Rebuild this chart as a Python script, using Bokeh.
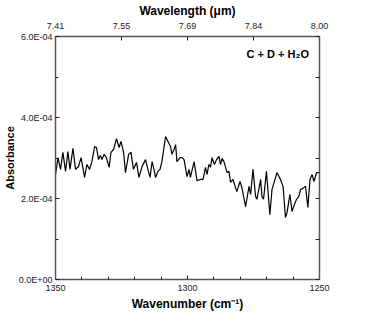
from bokeh.plotting import figure
from bokeh.models import (Range1d, LinearAxis, FixedTicker, Label,
                          CustomJSTickFormatter)
from bokeh.embed import file_html
from bokeh.resources import INLINE

# Spectrum (wavenumber in cm^-1, absorbance)
wavenumber = [
    1350.0, 1349.05, 1348.1, 1347.2, 1346.2, 1345.3, 1344.5, 1343.4, 1342.4, 1341.3,
    1340.3, 1339.0, 1338.1, 1337.1, 1336.2, 1335.2, 1334.5, 1333.7, 1333.0, 1332.4,
    1331.6, 1330.7, 1329.7, 1329.0, 1328.0, 1326.9, 1325.9, 1325.2, 1324.2, 1323.5,
    1322.3, 1321.4, 1320.5, 1319.3, 1318.4, 1317.2, 1315.9, 1315.0, 1314.2, 1313.4,
    1312.7, 1312.1, 1311.2, 1310.4, 1309.7, 1308.3, 1307.4, 1306.4, 1305.9, 1305.1,
    1304.5, 1304.0, 1302.8, 1302.1, 1301.3, 1300.2, 1299.4, 1298.9, 1297.5, 1296.4,
    1295.1, 1294.1, 1293.2, 1292.6, 1291.9, 1291.3, 1290.7, 1289.8, 1289.0, 1288.1,
    1287.5, 1286.9, 1286.2, 1285.0, 1284.3, 1283.7, 1282.8, 1281.8, 1281.3, 1280.1,
    1279.4, 1278.0, 1276.7, 1276.1, 1275.2, 1274.2, 1273.7, 1272.3, 1271.8, 1271.2,
    1270.1, 1268.8, 1268.0, 1267.2, 1266.1, 1264.8, 1263.8, 1262.9, 1262.3, 1261.2,
    1260.4, 1259.8, 1258.7, 1257.8, 1257.2, 1256.3, 1255.3, 1254.4, 1253.6, 1252.8,
    1252.1, 1251.1, 1250.2,
]
absorbance_e4 = [
    2.59, 3.01, 2.72, 3.14, 2.67, 3.16, 2.72, 3.24, 2.72, 2.79,
    3.01, 2.52, 2.84, 2.72, 2.91, 3.28, 3.26, 2.96, 3.06, 2.96,
    3.09, 3.01, 2.77, 3.14, 3.21, 3.48, 3.26, 3.41, 3.14, 2.64,
    3.09, 3.14, 2.72, 2.89, 2.52, 2.79, 2.96, 2.72, 2.52, 2.91,
    2.72, 2.52, 2.67, 2.72, 2.91, 3.53, 3.41, 3.28, 3.09, 3.21,
    3.33, 2.91, 3.01, 3.01, 2.96, 2.54, 2.72, 2.52, 2.91, 2.44,
    2.47, 2.47, 2.77, 2.59, 2.84, 2.77, 3.01, 2.84, 2.96, 3.04,
    2.84, 2.99, 2.91, 2.64, 2.67, 2.40, 2.47, 2.27, 2.17, 2.42,
    2.27, 1.80, 2.30, 2.10, 2.72, 2.05, 1.98, 2.47, 2.05, 1.98,
    2.67, 1.60, 2.22, 2.40, 2.64, 2.47, 2.30, 1.53, 1.65, 2.10,
    1.68, 1.80, 1.98, 2.05, 2.22, 2.25, 2.30, 1.78, 2.47, 2.59,
    2.42, 2.64, 2.64,
]
absorbance = [v * 1e-4 for v in absorbance_e4]

# Axes
y_ticks = [0.0, 2e-4, 4e-4, 6e-4]
y_minor_ticks = [1e-4, 3e-4, 5e-4]
y_tick_labels = ["0.0E+00", "2.0E-04", "4.0E-04", "6.0E-04"]
right_ticks = [0.0, 1e-4, 2e-4, 3e-4, 4e-4, 5e-4, 6e-4]
x_ticks = [1350, 1300, 1250]
x_minor_ticks = [1340, 1330, 1320, 1310, 1290, 1280, 1270, 1260]
top_ticks_wn = [1350, 1325, 1300, 1275, 1250]
top_tick_labels = ["7.41", "7.55", "7.69", "7.84", "8.00"]
annotation_text = "C + D + H\u2082O"
annotation_pos = (1254.0, 5.58e-4)

FONT = "Liberation Sans"
AXIS_COLOR = "#555555"

p = figure(frame_width=264, frame_height=243, output_backend="svg",
           toolbar_location=None,
           x_range=Range1d(1350, 1250), y_range=Range1d(0, 6e-4),
           min_border_left=47, min_border_right=43, min_border_top=29,
           min_border_bottom=39)
p.grid.visible = False
p.outline_line_color = None
p.background_fill_color = "white"

p.line(wavenumber, absorbance, line_color="black", line_width=1.2)


def style(ax):
    ax.axis_line_color = AXIS_COLOR
    ax.axis_line_width = 1.5
    ax.major_tick_in = 4
    ax.major_tick_out = 0
    ax.minor_tick_in = 3
    ax.minor_tick_out = 0
    ax.major_tick_line_color = "#222222"
    ax.minor_tick_line_color = "#222222"
    ax.major_label_text_font = FONT
    ax.major_label_text_font_size = "9px"
    ax.major_label_text_color = "#222222"
    ax.axis_label_text_font = FONT
    ax.axis_label_text_font_style = "bold"
    ax.axis_label_text_color = "black"


# bottom
xb = p.xaxis[0]
xb.ticker = FixedTicker(ticks=x_ticks, minor_ticks=x_minor_ticks)
style(xb)
xb.axis_label = "Wavenumber (cm\u207b\u00b9)"
xb.axis_label_text_font_size = "12px"
xb.major_label_standoff = 5
xb.axis_label_standoff = 3

# left
yl = p.yaxis[0]
yl.ticker = FixedTicker(ticks=y_ticks, minor_ticks=y_minor_ticks)
yl.major_label_overrides = {t: l for t, l in zip(y_ticks, y_tick_labels)}
style(yl)
yl.axis_label = "Absorbance"
yl.axis_label_text_font_size = "11px"
yl.major_label_standoff = 3
yl.axis_label_standoff = 0

# top
xt = LinearAxis(ticker=FixedTicker(ticks=top_ticks_wn))
xt.major_label_overrides = {t: l for t, l in zip(top_ticks_wn, top_tick_labels)}
style(xt)
xt.axis_label = "Wavelength (\u03bcm)"
xt.axis_label_text_font_size = "12px"
xt.major_label_standoff = 8
xt.axis_label_standoff = 2
p.add_layout(xt, "above")

# right (ticks only)
yr = LinearAxis(ticker=FixedTicker(ticks=right_ticks),
                formatter=CustomJSTickFormatter(code="return ''"))
style(yr)
yr.major_label_standoff = 0
p.add_layout(yr, "right")

p.add_layout(Label(x=annotation_pos[0], y=annotation_pos[1], text=annotation_text,
                   text_font=FONT, text_font_style="bold", text_font_size="11px",
                   text_align="right", text_baseline="middle", text_color="black"))

open("out.html", "w").write(file_html(p, INLINE))
